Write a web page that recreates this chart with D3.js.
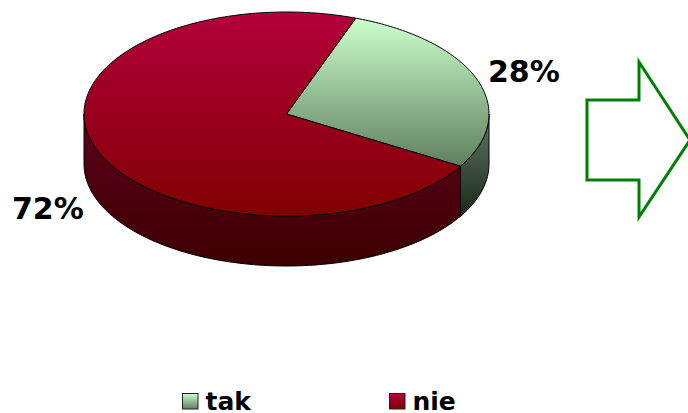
<!DOCTYPE html>
<html><head><meta charset="utf-8">
<script src="https://cdn.jsdelivr.net/npm/d3@7/dist/d3.min.js"></script>
<style>html,body{margin:0;padding:0;background:#fff;overflow:hidden}svg{display:block}text{font-family:"DejaVu Sans",sans-serif;font-weight:bold;fill:#000}</style>
</head><body><svg id="c" width="688" height="413"></svg>
<script>
const categories = ["tak", "nie"];
const values = [28, 72];
const valueLabels = ["28%", "72%"];
const topColors = [["#ccffcc", "#5f7f5f"], ["#b3003c", "#800000"]];
const wallColors = [["#5f7a62", "#1a261c"], ["#5c001e", "#3d0000"]];

const svg = d3.select("#c");
const cx = 286.5, cy = 114, rx = 202.5, ry = 102, depth = 50;
const x = d3.scaleLinear().domain([-1, 1]).range([cx - rx, cx + rx]);
const y = d3.scaleLinear().domain([-1, 1]).range([cy - ry, cy + ry]);
const deg = Math.PI / 180;
const pie = d3.pie().value(d => d).sort(null).startAngle(20 * deg).endAngle(380 * deg);
const arcs = pie(values);
const line = d3.line();
const pt = (a, dy = 0) => [x(Math.sin(a)), y(-Math.cos(a)) + dy];
const samples = (a0, a1) => {
  const n = Math.max(2, Math.ceil(Math.abs(a1 - a0) / deg));
  return d3.range(n + 1).map(i => a0 + (a1 - a0) * i / n);
};

const defs = svg.append("defs");
function grad(id, c, y1, y2) {
  const g = defs.append("linearGradient").attr("id", id)
    .attr("gradientUnits", "userSpaceOnUse")
    .attr("x1", 0).attr("x2", 0).attr("y1", y1).attr("y2", y2);
  g.append("stop").attr("offset", 0).attr("stop-color", c[0]);
  g.append("stop").attr("offset", 1).attr("stop-color", c[1]);
}
grad("top0", topColors[0], 18, 166);
grad("top1", topColors[1], 12, 216);
grad("wall0", wallColors[0], 114, 218);
grad("wall1", wallColors[1], 114, 266);
categories.forEach((c, i) => {
  const g = defs.append("linearGradient").attr("id", "leg" + i).attr("x1", 0).attr("x2", 0).attr("y1", 0).attr("y2", 1);
  g.append("stop").attr("offset", 0).attr("stop-color", topColors[i][0]);
  g.append("stop").attr("offset", 1).attr("stop-color", topColors[i][1]);
});

// outer walls: only the front half (90° to 270° clockwise from the top)
arcs.forEach((d, i) => {
  const a0 = Math.max(d.startAngle, 90 * deg), a1 = Math.min(d.endAngle, 270 * deg);
  if (a1 <= a0) return;
  const s = samples(a0, a1);
  const p = s.map(a => pt(a)).concat(s.slice().reverse().map(a => pt(a, depth)));
  svg.append("path").attr("d", line(p) + "Z")
    .attr("fill", `url(#wall${i})`).attr("stroke", "#000").attr("stroke-width", 1).attr("stroke-linejoin", "round");
});

// top faces
arcs.forEach((d, i) => {
  const p = [[cx, cy]].concat(samples(d.startAngle, d.endAngle).map(a => pt(a)));
  svg.append("path").attr("d", line(p) + "Z")
    .attr("fill", `url(#top${i})`).attr("stroke", "#000").attr("stroke-width", 1).attr("stroke-linejoin", "round");
});

// value labels
const labelPos = [[488, 82], [12, 219]];
svg.selectAll(".val").data(valueLabels).join("text").attr("class", "val")
  .attr("x", (d, i) => labelPos[i][0]).attr("y", (d, i) => labelPos[i][1])
  .attr("font-size", 30).text(d => d);

// legend
const legendX = [182, 389];
const leg = svg.selectAll(".leg").data(categories).join("g").attr("class", "leg");
leg.append("rect").attr("x", (d, i) => legendX[i] + .5).attr("y", 393.5).attr("width", 15.5).attr("height", 15.5)
  .attr("fill", (d, i) => `url(#leg${i})`).attr("stroke", "#222").attr("stroke-width", 1);
leg.append("text").attr("x", (d, i) => legendX[i] + 23.5).attr("y", 409.5).attr("font-size", 25).text(d => d);

// arrow callout
const arrow = [[587, 100], [639, 100], [639, 62], [690, 140], [639, 217], [639, 180], [587, 180]];
svg.append("path").attr("d", line(arrow) + "Z").attr("fill", "#fff")
  .attr("stroke", "#008000").attr("stroke-width", 3).attr("stroke-linejoin", "miter");
</script></body></html>
